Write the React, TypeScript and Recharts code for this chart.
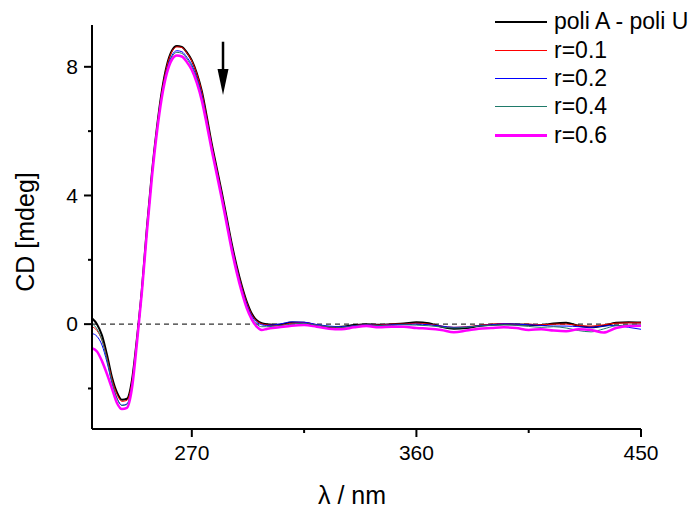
import React from 'react';
import { LineChart, Line, XAxis, YAxis, ReferenceLine } from 'recharts';

// wavelength grid (nm): 2 nm steps over the bands, 5 nm over the flat tail
const WAVELENGTH = [
  230, 232, 234, 236, 238, 240, 242, 244, 246, 248, 250, 252, 254, 256, 258, 260, 262, 264,
  266, 268, 270, 272, 274, 276, 278, 280, 282, 284, 286, 288, 290, 292, 294, 296, 298, 300,
  305, 310, 315, 320, 325, 330, 335, 340, 345, 350, 355, 360, 365, 370, 375, 380, 385, 390,
  395, 400, 405, 410, 415, 420, 425, 430, 435, 440, 445, 450,
];

const POLY_AU = [
  0.18, 0.0, -0.35, -0.95, -1.65, -2.12, -2.35, -2.32, -1.75, -0.45, 1.1, 3.0, 4.7, 6.1, 7.25, 8.05, 8.5, 8.65,
  8.62, 8.45, 8.2, 7.8, 7.25, 6.45, 5.6, 4.85, 4.1, 3.3, 2.5, 1.8, 1.2, 0.7, 0.33, 0.12, 0.03, 0.0,
  -0.02, 0.05, 0.04, -0.04, -0.1, -0.08, -0.03, 0.0, -0.02, 0.0, 0.02, 0.06, 0.03, -0.08, -0.14, -0.12, -0.06, -0.02,
  0.0, -0.01, -0.02, -0.03, 0.02, 0.04, -0.05, -0.1, -0.05, 0.04, 0.06, 0.05,
];

const R01 = [
  -0.08, -0.2, -0.5, -1.05, -1.72, -2.18, -2.4, -2.37, -1.8, -0.48, 1.08, 2.97, 4.68, 6.08, 7.22, 8.02, 8.47, 8.62,
  8.6, 8.43, 8.18, 7.78, 7.22, 6.42, 5.57, 4.82, 4.07, 3.27, 2.47, 1.77, 1.17, 0.67, 0.3, 0.1, 0.01, -0.02,
  -0.04, 0.03, 0.05, -0.02, -0.08, -0.1, -0.05, -0.01, -0.03, 0.0, 0.0, 0.03, 0.0, -0.06, -0.1, -0.08, -0.04, 0.0,
  0.02, -0.01, 0.0, -0.02, 0.0, 0.0, -0.04, -0.06, -0.02, 0.03, 0.04, 0.04,
];

const R02 = [
  -0.29, -0.38, -0.65, -1.18, -1.83, -2.3, -2.52, -2.48, -1.9, -0.55, 1.03, 2.92, 4.62, 6.02, 7.14, 7.92, 8.35, 8.5,
  8.47, 8.3, 8.06, 7.66, 7.12, 6.34, 5.5, 4.76, 4.02, 3.23, 2.43, 1.73, 1.12, 0.62, 0.26, 0.06, -0.02, -0.04,
  0.0, 0.07, 0.06, -0.01, -0.06, -0.08, -0.05, -0.02, -0.04, -0.02, -0.01, 0.0, -0.02, -0.06, -0.1, -0.09, -0.05, -0.02,
  0.01, 0.0, -0.02, -0.04, -0.06, -0.06, -0.08, -0.1, -0.06, -0.04, -0.1, -0.16,
];

const R04 = [
  0.02, -0.15, -0.5, -1.1, -1.8, -2.3, -2.53, -2.5, -1.92, -0.56, 1.02, 2.9, 4.6, 6.0, 7.1, 7.88, 8.3, 8.45,
  8.42, 8.25, 8.0, 7.6, 7.06, 6.28, 5.45, 4.7, 3.96, 3.17, 2.38, 1.68, 1.06, 0.56, 0.2, 0.0, -0.08, -0.08,
  -0.05, 0.0, 0.02, -0.03, -0.08, -0.1, -0.06, -0.03, -0.05, -0.04, -0.02, -0.03, -0.05, -0.09, -0.12, -0.1, -0.06, -0.04,
  -0.02, -0.04, -0.07, -0.1, -0.08, -0.12, -0.2, -0.24, -0.15, -0.05, -0.03, -0.02,
];

const R06 = [
  -0.75, -0.85, -1.15, -1.55, -2.0, -2.45, -2.64, -2.6, -2.0, -0.6, 1.0, 2.85, 4.55, 5.95, 7.05, 7.8, 8.22, 8.35,
  8.32, 8.15, 7.9, 7.5, 6.95, 6.2, 5.4, 4.65, 3.9, 3.1, 2.3, 1.6, 1.0, 0.5, 0.15, -0.08, -0.18, -0.15,
  -0.1, -0.05, -0.03, -0.08, -0.14, -0.16, -0.1, -0.06, -0.1, -0.08, -0.08, -0.12, -0.14, -0.18, -0.25, -0.2, -0.14, -0.12,
  -0.1, -0.12, -0.18, -0.16, -0.2, -0.22, -0.16, -0.18, -0.26, -0.12, -0.06, -0.05,
];

const SERIES = [
  { key: 'polyAU', name: 'poli A - poli U', values: POLY_AU, color: '#000000', width: 2 },
  { key: 'r01', name: 'r=0.1', values: R01, color: '#ff0000', width: 1 },
  { key: 'r02', name: 'r=0.2', values: R02, color: '#0000ff', width: 1 },
  { key: 'r04', name: 'r=0.4', values: R04, color: '#1f7a6a', width: 1 },
  { key: 'r06', name: 'r=0.6', values: R06, color: '#ff00ff', width: 2.5 },
];

const X_TICKS = [270, 315, 360, 405, 450];
const X_LABELED = [270, 360, 450];
const Y_TICKS = [-2, 0, 2, 4, 6, 8];
const Y_LABELED = [0, 4, 8];

// arrow annotation, in data units
const ARROW = [{ x: 282.5, y: 8.78 }, { x: 282.5, y: 7.12 }];

const FONT = "Arial, 'Liberation Sans', Helvetica, sans-serif";

const data = WAVELENGTH.map((x, i) => {
  const row: Record<string, number> = { x };
  SERIES.forEach(s => { row[s.key] = s.values[i]; });
  return row;
});

function XTick({ x, y, payload }: any) {
  const major = X_LABELED.includes(payload.value);
  return (
    <g>
      <line x1={x} x2={x} y1={y} y2={y + (major ? 8 : 4)} stroke="#000" strokeWidth={2} />
      {major && (
        <text x={x} y={y + 31} textAnchor="middle" fontSize={21} fontFamily={FONT} fill="#000">
          {payload.value}
        </text>
      )}
    </g>
  );
}

function YTick({ x, y, payload }: any) {
  const major = Y_LABELED.includes(payload.value);
  return (
    <g>
      <line x1={x - (major ? 8 : 4)} x2={x} y1={y} y2={y} stroke="#000" strokeWidth={2} />
      {major && (
        <text x={x - 14} y={y} dy="0.35em" textAnchor="end" fontSize={21} fontFamily={FONT} fill="#000">
          {payload.value}
        </text>
      )}
    </g>
  );
}

function ArrowShape({ x1, y1, x2, y2 }: any) {
  const head = 26;
  return (
    <g>
      <line x1={x1} y1={y1} x2={x2} y2={y2 - head + 2} stroke="#000" strokeWidth={2.5} />
      <polygon points={`${x2 - 5.5},${y2 - head} ${x2 + 5.5},${y2 - head} ${x2},${y2}`} fill="#000" />
    </g>
  );
}

export default function App() {
  return (
    <div style={{ position: 'absolute', left: 0, top: 0, width: 696, height: 511, background: '#fff', fontFamily: FONT }}>
      <LineChart width={696} height={511} data={data} margin={{ top: 25, right: 55, bottom: 52, left: 32 }}>
        <XAxis
          dataKey="x"
          type="number"
          domain={[230, 450]}
          ticks={X_TICKS}
          allowDataOverflow
          height={30}
          tickSize={0}
          tickMargin={0}
          tickLine={false}
          axisLine={{ stroke: '#000', strokeWidth: 2 }}
          tick={<XTick />}
          label={{
            content: () => (
              <text x={352} y={504} textAnchor="middle" fontSize={25} fontFamily={FONT} fill="#000">
                λ / nm
              </text>
            ),
          }}
        />
        <YAxis
          type="number"
          domain={[-3.26, 9.3]}
          ticks={Y_TICKS}
          allowDataOverflow
          width={60}
          tickSize={0}
          tickMargin={0}
          tickLine={false}
          axisLine={{ stroke: '#000', strokeWidth: 2 }}
          tick={<YTick />}
          label={{
            content: () => (
              <text x={25} y={232} dy="0.35em" transform="rotate(-90 25 232)" textAnchor="middle"
                fontSize={25} fontFamily={FONT} fill="#000">
                CD [mdeg]
              </text>
            ),
          }}
        />
        <ReferenceLine y={0} stroke="#333" strokeDasharray="5 4" strokeWidth={1.2} />
        {SERIES.map(s => (
          <Line
            key={s.key}
            dataKey={s.key}
            name={s.name}
            type="monotone"
            stroke={s.color}
            strokeWidth={s.width}
            dot={false}
            activeDot={false}
            isAnimationActive={false}
          />
        ))}
        <ReferenceLine segment={ARROW} shape={ArrowShape} ifOverflow="visible" />
      </LineChart>
      <div style={{ position: 'absolute', left: 495, top: 7.5 }}>
        {SERIES.map(s => (
          <div key={s.key} style={{ display: 'flex', alignItems: 'center', height: 28.4 }}>
            <span style={{ display: 'inline-block', width: 52, height: s.width, background: s.color }} />
            <span style={{ marginLeft: 7, fontSize: 23, color: '#000', whiteSpace: 'nowrap' }}>{s.name}</span>
          </div>
        ))}
      </div>
    </div>
  );
}
